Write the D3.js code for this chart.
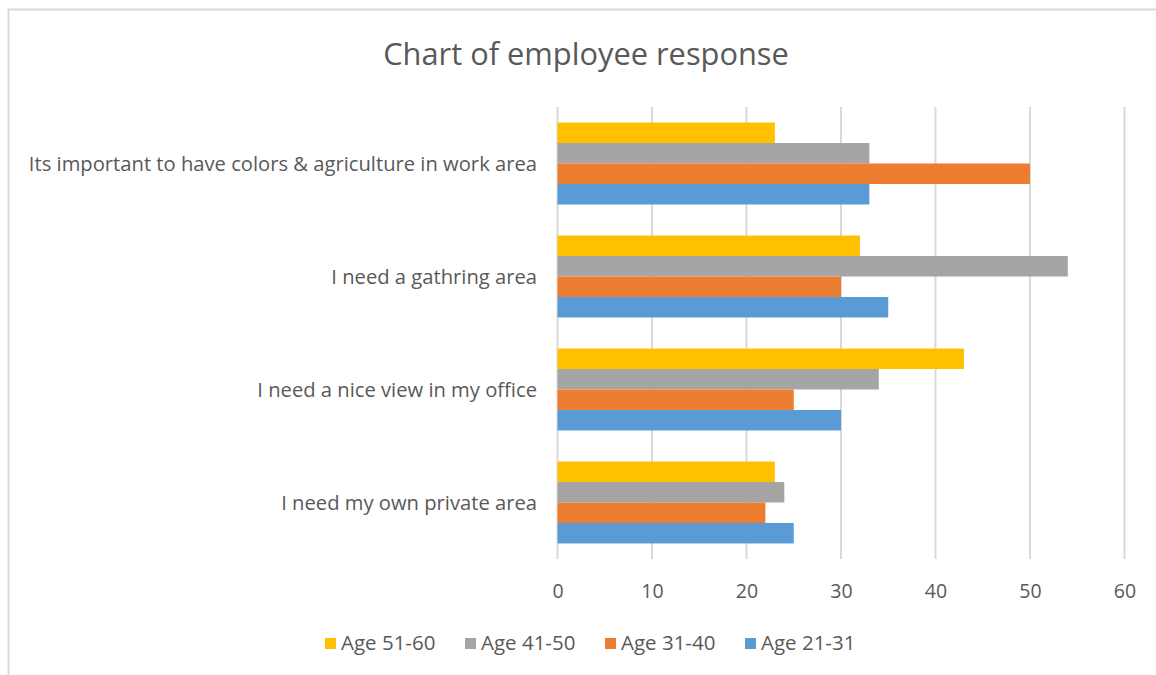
<!DOCTYPE html>
<html><head><meta charset="utf-8">
<script src="https://cdn.jsdelivr.net/npm/d3@7"></script>
<style>body{margin:0;background:#fff}svg{display:block}text{font-family:"Open Sans",sans-serif}</style>
</head><body><svg id="c" width="1156" height="675"></svg>
<script>
const categories = ["Its important to have colors & agriculture in work area","I need a gathring area","I need a nice view in my office","I need my own private area"];
const seriesNames = ["Age 51-60","Age 41-50","Age 31-40","Age 21-31"];
const seriesColors = ["#FFC000","#A5A5A5","#ED7D31","#5B9BD5"];
const age5160 = [23,32,43,23];
const age4150 = [33,54,34,24];
const age3140 = [50,30,25,22];
const age2131 = [33,35,30,25];
const tickValues = [0,10,20,30,40,50,60];
const values = [age5160, age4150, age3140, age2131];

const svg = d3.select("#c");
// chart frame
svg.append("path").attr("d","M8.5,675 V9.5 H1156").attr("fill","none").attr("stroke","#d9d9d9").attr("stroke-width",2);

const x = d3.scaleLinear().domain([0,60]).range([557.5,1124.5]);
const y = d3.scaleBand().domain(categories).range([107,559]).paddingInner(0.275).paddingOuter(0.1375);
const inner = d3.scaleBand().domain(seriesNames).range([0,y.bandwidth()]);

// gridlines
svg.append("g").selectAll("line").data(tickValues).join("line")
  .attr("x1",d=>x(d)).attr("x2",d=>x(d)).attr("y1",107).attr("y2",559)
  .attr("stroke","#d9d9d9").attr("stroke-width",2);

// bars
seriesNames.forEach((s,si)=>{
  svg.append("g").selectAll("rect").data(categories).join("rect")
    .attr("x",x(0)).attr("y",(c)=>y(c)+inner(s))
    .attr("width",(c,i)=>x(values[si][i])-x(0)).attr("height",inner.bandwidth())
    .attr("fill",seriesColors[si]);
});

// x axis labels
const xa = svg.append("g").attr("transform","translate(0,559)").call(d3.axisBottom(x).tickValues(tickValues).tickSize(0).tickPadding(0));
xa.select(".domain").remove();
xa.selectAll("text").attr("dy",0).attr("y",39).attr("font-size",19.5).attr("fill","#595959").attr("font-family","Open Sans");

// y axis labels
const ya = svg.append("g").attr("transform","translate(537,0)").call(d3.axisLeft(y).tickSize(0).tickPadding(0));
ya.select(".domain").remove();
ya.selectAll("text").attr("x",0).attr("dy","0.35em").attr("font-size",20.2).attr("fill","#595959").attr("font-family","Open Sans");

// title
svg.append("text").attr("x",586).attr("y",65).attr("text-anchor","middle").attr("font-size",30.8).attr("fill","#595959").text("Chart of employee response");

// legend
const legX = [325,465,605,745];
const lg = svg.append("g").selectAll("g").data(seriesNames).join("g").attr("transform",(d,i)=>`translate(${legX[i]},0)`);
lg.append("rect").attr("x",0).attr("y",638).attr("width",11).attr("height",11).attr("fill",(d,i)=>seriesColors[i]);
lg.append("text").attr("x",16).attr("y",650).attr("font-size",20.5).attr("fill","#595959").text(d=>d);
</script></body></html>
